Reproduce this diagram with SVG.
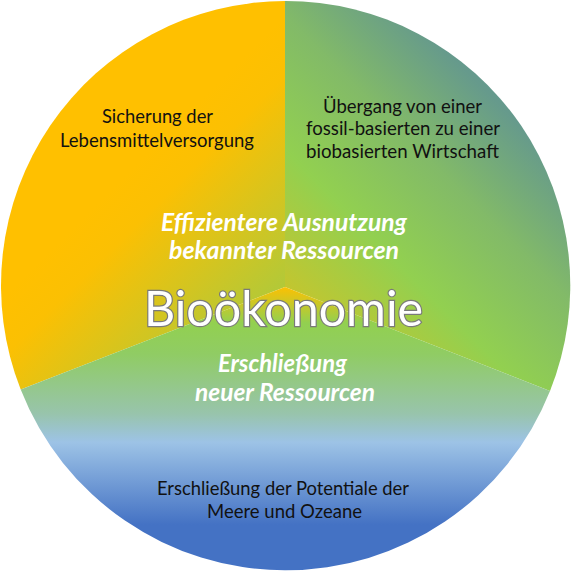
<svg xmlns="http://www.w3.org/2000/svg" width="571" height="571" viewBox="0 0 571 571">
  <defs>
    <linearGradient id="gLeft" gradientUnits="userSpaceOnUse" x1="150" y1="150" x2="300" y2="300">
      <stop offset="0" stop-color="#FFC000"/>
      <stop offset="0.2" stop-color="#FBC003"/>
      <stop offset="1" stop-color="#A8CA40"/>
    </linearGradient>
    <linearGradient id="gRight" gradientUnits="userSpaceOnUse" x1="270" y1="310" x2="520" y2="60">
      <stop offset="0" stop-color="#D0C326"/>
      <stop offset="0.35" stop-color="#92D050"/>
      <stop offset="0.62" stop-color="#82BA68"/>
      <stop offset="0.87" stop-color="#669A8C"/>
      <stop offset="1" stop-color="#609693"/>
    </linearGradient>
    <linearGradient id="gBottom" gradientUnits="userSpaceOnUse" x1="0" y1="286" x2="0" y2="570">
      <stop offset="0" stop-color="#FFC000"/>
      <stop offset="0.13" stop-color="#92D050"/>
      <stop offset="0.24" stop-color="#90CC64"/>
      <stop offset="0.45" stop-color="#98C4AC"/>
      <stop offset="0.55" stop-color="#9DC3E6"/>
      <stop offset="0.84" stop-color="#4472C4"/>
      <stop offset="1" stop-color="#4472C4"/>
    </linearGradient>
  </defs>
  <style>
    .lbl { font-family: Lato, "Liberation Sans", sans-serif; font-size: 18.5px; fill: #111; text-anchor: middle; }
    .it { font-family: Lato, "Liberation Sans", sans-serif; font-size: 24px; font-weight: bold; font-style: italic; fill: #fff; text-anchor: middle; }
    .big { font-family: Lato, "Liberation Sans", sans-serif; font-size: 49px; fill: #fff; stroke: #7a7a7a; stroke-width: 2.4; paint-order: stroke; text-anchor: middle; }
  </style>
  <g id="sector-food">
    <path d="M285,287 L20.7,389.5 A284.5,284.5 0 0 1 285,1 Z" fill="url(#gLeft)"/>
    <text class="lbl" x="157.5" y="123" textLength="111" lengthAdjust="spacingAndGlyphs">Sicherung der</text>
    <text class="lbl" x="157" y="147" textLength="194" lengthAdjust="spacingAndGlyphs">Lebensmittelversorgung</text>
  </g>
  <g id="sector-biobased">
    <path d="M285,287 L285,1 A284.5,284.5 0 0 1 550,391 Z" fill="url(#gRight)"/>
    <text class="lbl" x="402.5" y="112.5" textLength="159" lengthAdjust="spacingAndGlyphs">Übergang von einer</text>
    <text class="lbl" x="403" y="135" textLength="194" lengthAdjust="spacingAndGlyphs">fossil-basierten zu einer</text>
    <text class="lbl" x="402.5" y="157.5" textLength="193" lengthAdjust="spacingAndGlyphs">biobasierten Wirtschaft</text>
  </g>
  <g id="sector-oceans">
    <path d="M285,287 L550,391 A284.5,284.5 0 0 1 20.7,389.5 Z" fill="url(#gBottom)"/>
    <text class="lbl" x="283" y="495" textLength="252" lengthAdjust="spacingAndGlyphs">Erschließung der Potentiale der</text>
    <text class="lbl" x="284.5" y="518" textLength="155" lengthAdjust="spacingAndGlyphs">Meere und Ozeane</text>
  </g>
  <g id="center">
    <text class="it" x="284" y="231" textLength="246" lengthAdjust="spacingAndGlyphs">Effizientere Ausnutzung</text>
    <text class="it" x="284" y="258.5" textLength="230" lengthAdjust="spacingAndGlyphs">bekannter Ressourcen</text>
    <text class="big" x="283.5" y="325.5" textLength="279" lengthAdjust="spacingAndGlyphs">Bioökonomie</text>
    <text class="it" x="282.5" y="372" textLength="129" lengthAdjust="spacingAndGlyphs">Erschließung</text>
    <text class="it" x="285" y="400.5" textLength="180" lengthAdjust="spacingAndGlyphs">neuer Ressourcen</text>
  </g>
</svg>
